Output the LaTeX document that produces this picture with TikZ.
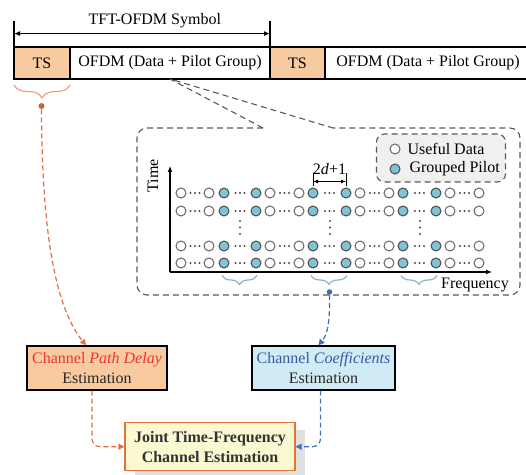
\documentclass[tikz,border=0pt]{standalone}
\usepackage{fontspec}
\setmainfont{Liberation Serif}
\usetikzlibrary{positioning,arrows.meta,decorations.pathreplacing,shadows}
\definecolor{tsc}{RGB}{248,202,160}
\definecolor{coefc}{RGB}{208,235,243}
\definecolor{pil}{RGB}{126,196,212}
\definecolor{jnt}{RGB}{250,249,210}
\definecolor{jntd}{RGB}{232,112,56}
\definecolor{dly}{RGB}{236,52,60}
\definecolor{cof}{RGB}{58,88,168}
\definecolor{ora}{RGB}{226,110,70}
\definecolor{blu}{RGB}{60,110,190}
\definecolor{brb}{RGB}{140,180,200}
\definecolor{bro}{RGB}{240,160,130}

\begin{document}
\begin{tikzpicture}[x=0.5pt,y=-0.5pt,font=\fontsize{8}{10}\selectfont,
  >={Latex[length=3pt,width=2.5pt]},
  cell/.style={draw,line width=0.6pt,minimum height=16pt,inner sep=0pt,outer sep=0pt},
  ts/.style={cell,fill=tsc,minimum width=28pt},
  ofdm/.style={cell,minimum width=100pt},
  est/.style={draw,line width=0.6pt,align=center,minimum height=22pt,inner sep=1pt,text=black!85},
  wdot/.style={circle,draw=black!60,fill=white,line width=0.5pt,minimum size=5pt,inner sep=0pt},
  pdot/.style={wdot,draw=black!70,fill=pil},
  gbox/.style={draw=black!65,line width=0.55pt,dash pattern=on 3pt off 2pt},
  brc/.style={decorate,decoration={brace,mirror,amplitude=#1},line width=0.6pt},
  tip/.style={-{Triangle[length=3pt,width=3pt]},line width=0.6pt,dash pattern=on 2.5pt off 1.5pt}]
\useasboundingbox (0,0) rectangle (526,475);
\node[ts] (ts1) at (42,63) {TS};
\node[ofdm,right=0pt of ts1] (ofdm1) {OFDM (Data + Pilot Group)};
\node[ts,right=0pt of ofdm1,minimum width=27.5pt] (ts2) {TS};
\node[ofdm,right=0pt of ts2,minimum width=103pt] (ofdm2) {OFDM (Data + Pilot Group)};
\coordinate (symL) at ([yshift=13pt]ts1.north west);
\coordinate (symR) at ([yshift=13pt]ofdm1.north east);
\draw[line width=0.6pt] (ts1.north west) -- (symL) (ofdm1.north east) -- (symR);
\draw[<->,line width=0.6pt] ([yshift=-6.3pt]symL) -- node[above=-1pt,pos=0.55]{TFT-OFDM Symbol} ([yshift=-6.3pt]symR);

\coordinate (inL) at (263,128);
\coordinate (inR) at (333,128);
\draw[gbox,rounded corners=5pt] (inL) -- (137,128) -- (137,295) -- (520,295) -- (520,128) -- (inR);
\draw[gbox] (inL) -- (ofdm1.south) -- (inR);
\node[gbox,fill=black!6,rounded corners=4pt,minimum width=64.5pt,minimum height=24pt] (legend) at (441,158) {};
\node[wdot] (lgw) at (395,149) {};
\node[pdot] (lgp) at (395,169) {};
\node[right=0pt of lgw] (lgwt) {Useful Data};
\node[right=1pt of lgp] (lgpt) {Grouped Pilot};

\coordinate (org) at (170,272);
\coordinate (tax) at (170,166);
\coordinate (fax) at (492,272);
\draw[->,line width=0.6pt] (org) -- (tax);
\draw[->,line width=0.6pt] (org) -- (fax);
\node[rotate=90] (tlab) at (153,176) {Time};
\node (flab) at (475,285) {Frequency};
\foreach \r/\y in {1/193,2/211,3/246,4/263}{
  \foreach \g/\a/\b/\s in {1/181/209/wdot,2/224/256/pdot,3/270/299/wdot,4/313/346/pdot,5/360/389/wdot,6/403/436/pdot,7/450/479/wdot}{
    \node[\s] (c\r-\g-a) at (\a,\y) {};
    \node[\s] (c\r-\g-b) at (\b,\y) {};
    \foreach \k in {-4.5,0,4.5} \fill[black!70] ({(\a+\b)/2+\k},\y) circle (0.55pt);
  }
}
\foreach \x in {240,330,420} \foreach \y in {221,227.5,234} \fill[black!70] (\x,\y) circle (0.55pt);
\draw[line width=0.5pt] ([yshift=0.5pt]c1-4-a.north) -- ++(0,-13) ([yshift=0.5pt]c1-4-b.north) -- ++(0,-13);
\draw[<->,line width=0.6pt,>={Latex[length=2.5pt,width=2pt]}] ([yshift=3pt]c1-4-a.north) -- node[above]{2\textit{d}+1} ([yshift=3pt]c1-4-b.north);
\foreach \g in {2,4,6} \draw[brc=4.5pt,brb] ([xshift=-1pt,yshift=-3.5pt]c4-\g-a.south) -- ([xshift=0.5pt,yshift=-3.5pt]c4-\g-b.south);
\node[circle,fill=blu,inner sep=0pt,minimum size=2.8pt] (cdot) at (329.5,292) {};
\draw[brc=6.5pt,bro] ([yshift=-3pt]ts1.south west) -- ([yshift=-3pt]ts1.south east);
\node[circle,fill=ora!90!black,inner sep=0pt,minimum size=3pt] (tdot) at (41.5,106) {};

\node[est,fill=tsc,minimum width=70pt] (delay) at (97,368) {\textcolor{dly}{Channel \textit{Path Delay}}\\Estimation};
\node[est,fill=coefc,minimum width=71.5pt] (coef) at (323.5,368) {\textcolor{cof}{Channel \textit{Coefficients}}\\Estimation};
\node[est,draw=jntd,fill=jnt,minimum width=85pt,minimum height=24pt,font=\fontsize{8}{10}\selectfont\bfseries,text=black!80,
  drop shadow={shadow xshift=5pt,shadow yshift=-3.5pt,fill=black!12,opacity=1}] (joint) at (210,446.7) {Joint Time-Frequency\\Channel Estimation};
\draw[tip,ora] (tdot) .. controls (42,260) and (62,315) .. ([xshift=-5.5pt]delay.north);
\draw[tip,blu] (cdot) .. controls (330,325) and (327,335) .. ([xshift=-2.5pt]coef.north);
\draw[tip,ora,rounded corners=4pt] ([xshift=-2.5pt]delay.south) |- (joint.west);
\draw[tip,blu,rounded corners=4pt] ([xshift=-1.5pt]coef.south) |- (joint.east);
\end{tikzpicture}
\end{document}
